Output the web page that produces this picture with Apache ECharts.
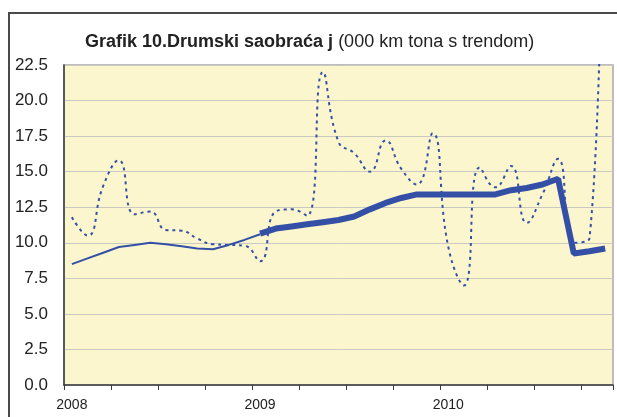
<!DOCTYPE html>
<html>
<head>
<meta charset="utf-8">
<script src="https://cdn.jsdelivr.net/npm/echarts@6/dist/echarts.min.js"></script>
<style>
  html, body { margin: 0; padding: 0; background: #fff; }
  #chart { width: 617px; height: 417px; }
</style>
</head>
<body>
<div id="chart"></div>
<script>
// monthly categories, Jan 2008 - Nov 2010
const months = [
  '2008-01', '2008-02', '2008-03', '2008-04', '2008-05', '2008-06',
  '2008-07', '2008-08', '2008-09', '2008-10', '2008-11', '2008-12',
  '2009-01', '2009-02', '2009-03', '2009-04', '2009-05', '2009-06',
  '2009-07', '2009-08', '2009-09', '2009-10', '2009-11', '2009-12',
  '2010-01', '2010-02', '2010-03', '2010-04', '2010-05', '2010-06',
  '2010-07', '2010-08', '2010-09', '2010-10', '2010-11'
]

const yTicks = [0, 2.5, 5, 7.5, 10, 12.5, 15, 17.5, 20, 22.5]

// raw monthly values (dotted)
const monthly = [
  11.8, 10.5, 14.0, 15.8, 12.0, 12.2, 10.9, 10.85, 10.3, 9.9, 9.85, 9.8,
  8.7, 12.2, 12.35, 11.9, 22.0, 17.1, 16.3, 15.0, 17.2, 15.2, 14.1, 17.7,
  9.7, 7.0, 15.3, 13.9, 15.4, 11.4, 13.4, 15.9, 10.0, 10.3, 50.0
]

// trend 2008 (thin line)
const trend2008 = [
  8.5, 8.9, 9.3, 9.7, 9.85, 10.0, 9.9, 9.75, 9.6, 9.55, 9.85, 10.2,
  10.6, null, null, null, null, null, null, null, null, null, null, null,
  null, null, null, null, null, null, null, null, null, null, null
]

// trend from 2009 (thick line)
const trendFrom2009 = [
  null, null, null, null, null, null, null, null, null, null, null, null,
  10.65, 11.0, 11.15, 11.3, 11.45, 11.6, 11.85, 12.35, 12.8, 13.15, 13.4, 13.4,
  13.4, 13.4, 13.4, 13.4, 13.7, 13.85, 14.1, 14.5, 9.25, 9.4, 9.6
]

const lineColor = '#3450a6'
const chart = echarts.init(document.getElementById('chart'))

chart.setOption({
  animation: false,
  backgroundColor: '#fff',
  textStyle: { fontFamily: 'Liberation Sans, Arial, sans-serif' },
  title: {
    left: 80,
    top: 26,
    text: '{b|Grafik 10.Drumski saobraća j} {n|(000 km tona s trendom)}',
    textStyle: {
      rich: {
        b: { fontSize: 18, lineHeight: 22, fontWeight: 'bold', color: '#222', fontFamily: 'Liberation Sans' },
        n: { fontSize: 18, lineHeight: 22, fontWeight: 'normal', color: '#222', fontFamily: 'Liberation Sans' }
      }
    }
  },
  graphic: [
    {
      type: 'rect',
      silent: true,
      shape: { x: 9, y: 13, width: 800, height: 600 },
      style: { fill: 'none', stroke: '#4a4a4a', lineWidth: 2 }
    }
  ],
  grid: {
    left: 64,
    top: 65,
    right: 4,
    bottom: 32,
    show: true,
    backgroundColor: '#fbf6cd',
    borderColor: '#a8a8a8',
    borderWidth: 1.5
  },
  xAxis: {
    type: 'category',
    data: months,
    boundaryGap: true,
    axisLine: { lineStyle: { color: '#3a3a3a', width: 1.5 } },
    axisTick: { show: true, interval: 2, length: 5, lineStyle: { color: '#3a3a3a' } },
    axisLabel: {
      interval: 11,
      color: '#222',
      fontSize: 14,
      margin: 13,
      formatter: (v) => v.slice(0, 4)
    },
    splitLine: { show: false }
  },
  yAxis: {
    type: 'value',
    min: yTicks[0],
    max: yTicks[yTicks.length - 1],
    interval: 2.5,
    axisLine: { show: true, lineStyle: { color: '#3a3a3a', width: 1.5 } },
    axisTick: { show: false },
    axisLabel: {
      color: '#222',
      fontSize: 17,
      margin: 16,
      formatter: (v) => v.toFixed(1)
    },
    splitLine: { lineStyle: { color: '#c9c9c2', width: 1 } }
  },
  series: [
    {
      name: 'monthly',
      type: 'line',
      data: monthly,
      smooth: 0.5,
      showSymbol: false,
      clip: true,
      lineStyle: { color: lineColor, width: 2, type: [3, 4] },
      z: 2
    },
    {
      name: 'trend 2008',
      type: 'line',
      data: trend2008,
      showSymbol: false,
      lineStyle: { color: lineColor, width: 2 },
      z: 3
    },
    {
      name: 'trend',
      type: 'line',
      data: trendFrom2009,
      showSymbol: false,
      lineStyle: { color: lineColor, width: 6 },
      z: 4
    }
  ]
})
</script>
</body>
</html>
